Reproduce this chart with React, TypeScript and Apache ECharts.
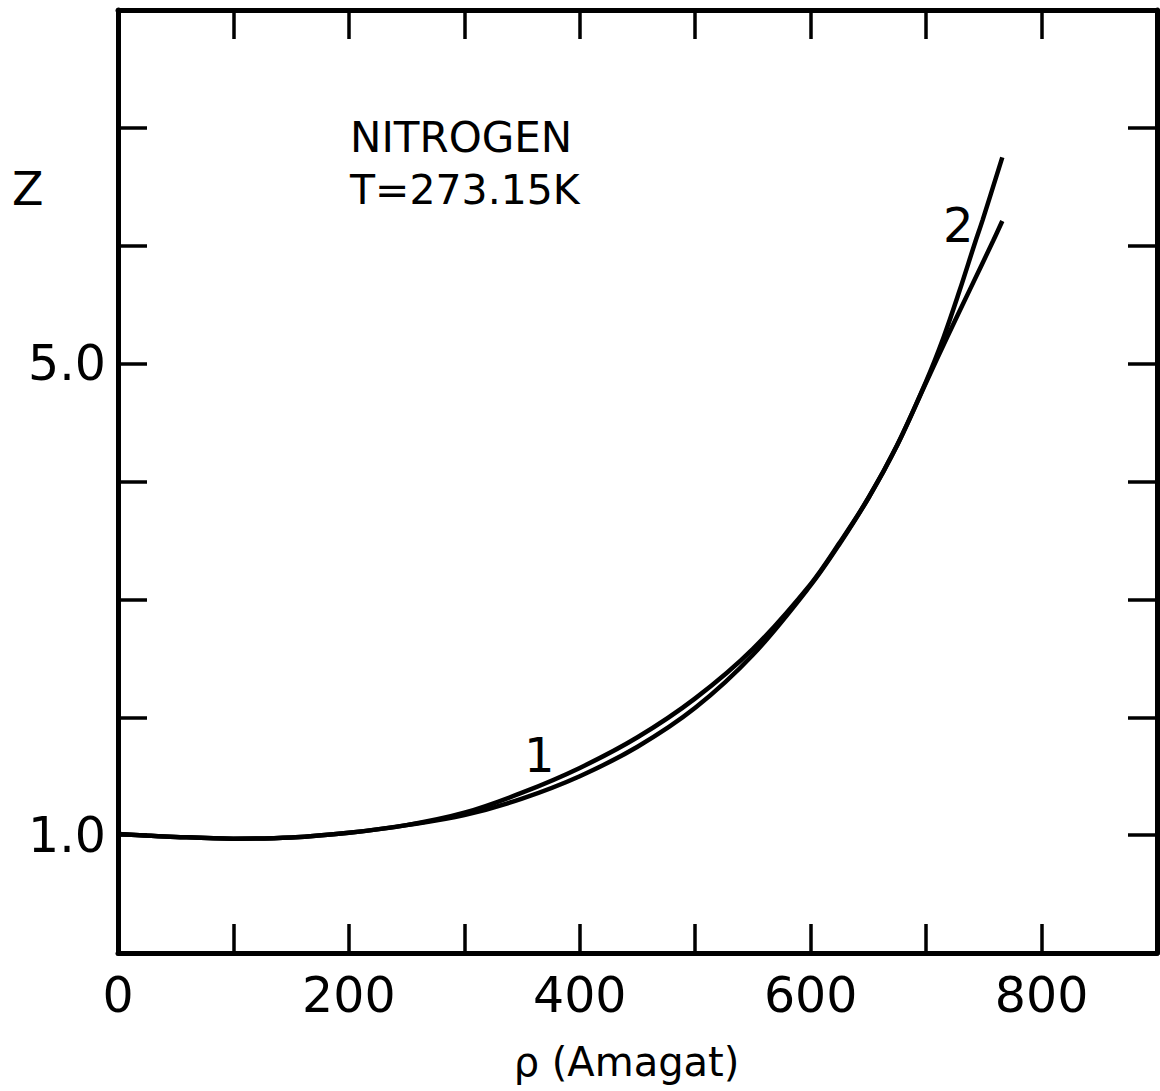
import React, { useEffect, useRef } from "react";
import * as echarts from "echarts";

// Density (Amagat) and compressibility factor Z
const rho1 = [0, 50, 100, 150, 200, 250, 300, 350, 400, 450, 500, 550, 600, 625, 650, 675, 700, 718, 738, 758, 766];
const z1 = [1.01, 0.985, 0.97, 0.98, 1.02, 1.085, 1.19, 1.36, 1.57, 1.83, 2.16, 2.58, 3.13, 3.48, 3.86, 4.31, 4.84, 5.22, 5.63, 6.04, 6.21];
const rho2 = [0, 50, 100, 150, 200, 250, 300, 350, 400, 450, 500, 550, 600, 625, 650, 675, 700, 715, 729, 742.5, 749, 766];
const z2 = [1.01, 0.985, 0.97, 0.98, 1.02, 1.085, 1.17, 1.31, 1.5, 1.75, 2.08, 2.53, 3.12, 3.47, 3.86, 4.31, 4.85, 5.22, 5.62, 6.03, 6.22, 6.75];

const xTickLabels = [0, 200, 400, 600, 800];
const yTickLabels = [1, 5];

const FONT = "DejaVu Sans";

export default function App() {
  const ref = useRef<HTMLDivElement>(null);

  useEffect(() => {
    if (!ref.current) return;
    const chart = echarts.init(ref.current, null, { renderer: "svg" });
    const lineAxis = { show: true, onZero: false, lineStyle: { color: "#000", width: 5 } };
    const ticks = { show: true, inside: true, length: 29, lineStyle: { color: "#000", width: 3.5 } };
    chart.setOption({
      animation: false,
      backgroundColor: "#fff",
      grid: { left: 118, right: 2, top: 10, bottom: 138, containLabel: false },
      xAxis: [
        {
          type: "value",
          min: 0,
          max: 900,
          interval: 100,
          position: "bottom",
          axisLine: lineAxis,
          axisTick: ticks,
          splitLine: { show: false },
          axisLabel: {
            show: true,
            margin: 42,
            verticalAlign: "middle",
            fontFamily: FONT,
            fontSize: 49,
            color: "#000",
            formatter: (v: number) => (xTickLabels.includes(v) ? String(v) : ""),
          },
          name: "ρ (Amagat)",
          nameLocation: "middle",
          nameGap: 109,
          nameTextStyle: {
            fontFamily: FONT,
            fontSize: 40,
            color: "#000",
            verticalAlign: "middle",
            padding: [0, 22, 0, 0],
          },
        },
        {
          type: "value",
          min: 0,
          max: 900,
          interval: 100,
          position: "top",
          axisLine: lineAxis,
          axisTick: ticks,
          splitLine: { show: false },
          axisLabel: { show: false },
        },
      ],
      yAxis: [
        {
          type: "value",
          min: 0,
          max: 8,
          interval: 1,
          position: "left",
          axisLine: lineAxis,
          axisTick: ticks,
          splitLine: { show: false },
          axisLabel: {
            show: true,
            margin: 12,
            fontFamily: FONT,
            fontSize: 49,
            color: "#000",
            formatter: (v: number) => (yTickLabels.includes(v) ? v.toFixed(1) : ""),
          },
        },
        {
          type: "value",
          min: 0,
          max: 8,
          interval: 1,
          position: "right",
          axisLine: lineAxis,
          axisTick: ticks,
          splitLine: { show: false },
          axisLabel: { show: false },
        },
      ],
      series: [
        {
          name: "1",
          type: "line",
          xAxisIndex: 0,
          yAxisIndex: 0,
          data: rho1.map((r, i) => [r, z1[i]]),
          showSymbol: false,
          smooth: 0.35,
          lineStyle: { color: "#000", width: 4.5 },
        },
        {
          name: "2",
          type: "line",
          xAxisIndex: 0,
          yAxisIndex: 0,
          data: rho2.map((r, i) => [r, z2[i]]),
          showSymbol: false,
          smooth: 0.35,
          lineStyle: { color: "#000", width: 4.5 },
        },
      ],
      graphic: [
        { type: "text", left: 12, top: 166, style: { text: "Z", font: `46px '${FONT}'`, fill: "#000" } },
        { type: "text", left: 350, top: 116, style: { text: "NITROGEN", font: `42px '${FONT}'`, fill: "#000" } },
        { type: "text", left: 350, top: 169, style: { text: "T=273.15K", font: `41px '${FONT}'`, fill: "#000" } },
        { type: "text", left: 943, top: 201, style: { text: "2", font: `48px '${FONT}'`, fill: "#000" } },
        { type: "text", left: 524, top: 731, style: { text: "1", font: `48px '${FONT}'`, fill: "#000" } },
      ],
    });
    return () => chart.dispose();
  }, []);

  return (
    <div
      ref={ref}
      style={{ position: "fixed", left: 0, top: 0, width: 1160, height: 1091, background: "#fff" }}
    />
  );
}
